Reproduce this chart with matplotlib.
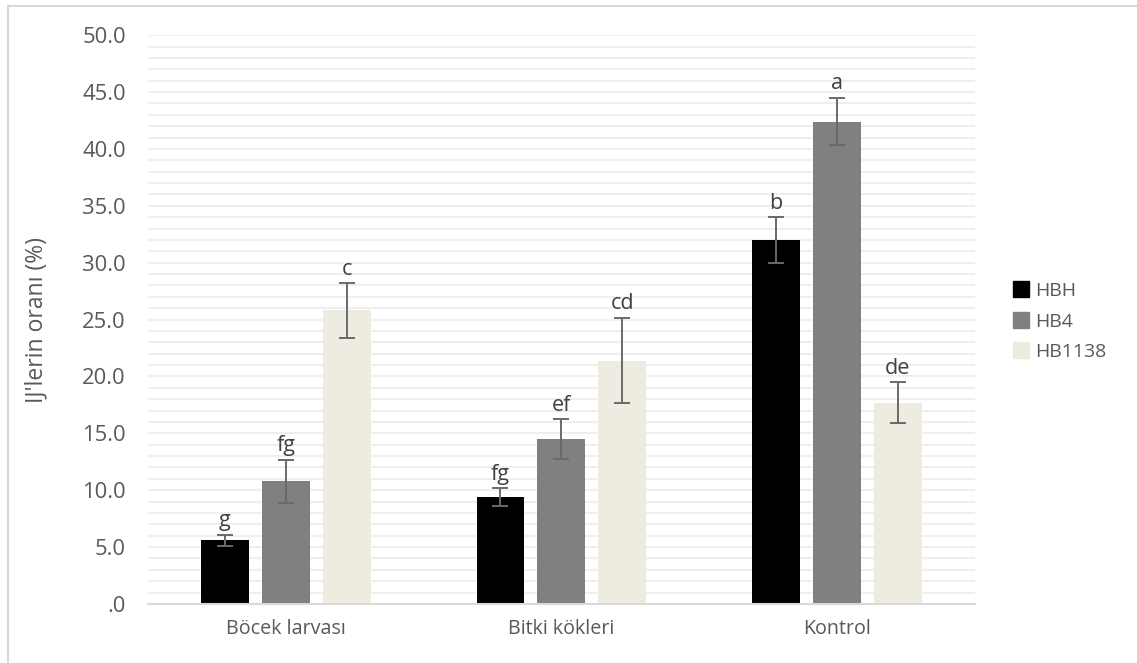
import matplotlib
matplotlib.use("Agg")
import matplotlib.pyplot as plt
import numpy as np
from matplotlib.ticker import FuncFormatter, MultipleLocator
from matplotlib.lines import Line2D

plt.rcParams['font.family'] = ['Open Sans', 'DejaVu Sans']

# veriler
kategoriler = ["Böcek larvası", "Bitki kökleri", "Kontrol"]
seriler = ["HBH", "HB4", "HB1138"]
hbh = [5.6, 9.4, 32.0]
hb4 = [10.8, 14.5, 42.4]
hb1138 = [25.8, 21.4, 17.7]
hbh_err = [0.5, 0.8, 2.0]
hb4_err = [1.9, 1.75, 2.1]
hb1138_err = [2.4, 3.75, 1.8]
harfler_hbh = ["g", "fg", "b"]
harfler_hb4 = ["fg", "ef", "a"]
harfler_hb1138 = ["c", "cd", "de"]

renkler = ["#000000", "#808080", "#eeebe1"]
degerler = [hbh, hb4, hb1138]
hatalar = [hbh_err, hb4_err, hb1138_err]
harfler = [harfler_hbh, harfler_hb4, harfler_hb1138]

fig = plt.figure(figsize=(11.37, 6.63), dpi=100)
ax = fig.add_axes([0.1302, 0.089, 0.7271, 0.858])

x = np.arange(len(kategoriler))
genislik = 0.174
adim = 0.221

for i, ad in enumerate(seriler):
    pos = x + (i - 1) * adim
    ax.bar(pos, degerler[i], width=genislik, color=renkler[i], label=ad, zorder=2)
    ax.errorbar(pos, degerler[i], yerr=hatalar[i], fmt="none", ecolor="#6a6a6a",
                elinewidth=1.4, capsize=5.5, capthick=1.4, zorder=3)
    for p, v, e, h in zip(pos, degerler[i], hatalar[i], harfler[i]):
        ax.text(p, v + e + 0.3, h, ha="center", va="bottom", fontsize=15.5,
                color="#404040")

ax.set_xlim(-0.5, 2.5)
ax.set_ylim(0, 50)
ax.yaxis.set_major_locator(MultipleLocator(5))
ax.yaxis.set_minor_locator(MultipleLocator(1))
ax.yaxis.set_major_formatter(FuncFormatter(lambda v, p: ".0" if v == 0 else f"{v:.1f}"))
ax.grid(axis="y", which="both", color="#efefef", linewidth=1.5, zorder=0)
ax.set_axisbelow(True)

for s in ["top", "right", "left"]:
    ax.spines[s].set_visible(False)
ax.spines["bottom"].set_color("#d9d9d9")
ax.spines["bottom"].set_linewidth(1.5)

ax.set_xticks(x)
ax.set_xticklabels(kategoriler)
ax.tick_params(axis="x", length=0, pad=11, labelsize=14.2, labelcolor="#595959")
ax.tick_params(axis="y", which="both", length=0, pad=16, labelsize=15.8, labelcolor="#595959")

ax.set_ylabel("IJ'lerin oranı (%)", fontsize=16.5, color="#595959", labelpad=24)

tutamaclar = [Line2D([0], [0], marker="s", linestyle="none", markersize=11,
                     markerfacecolor=renkler[i], markeredgecolor=renkler[i])
              for i in range(3)]
fig.legend(tutamaclar, seriler, loc="center left", bbox_to_anchor=(0.874, 0.515),
           frameon=False, fontsize=14, labelcolor="#595959", handletextpad=0.25,
           labelspacing=0.65, handlelength=1.0)

# grafik cercevesi (ust ve sol)
fig.add_artist(Line2D([0.007, 1.0], [0.991, 0.991], color="#d9d9d9", lw=1.5,
                      transform=fig.transFigure))
fig.add_artist(Line2D([0.007, 0.007], [0.0, 0.991], color="#d9d9d9", lw=1.5,
                      transform=fig.transFigure))

fig.savefig("out.png", dpi=100)
